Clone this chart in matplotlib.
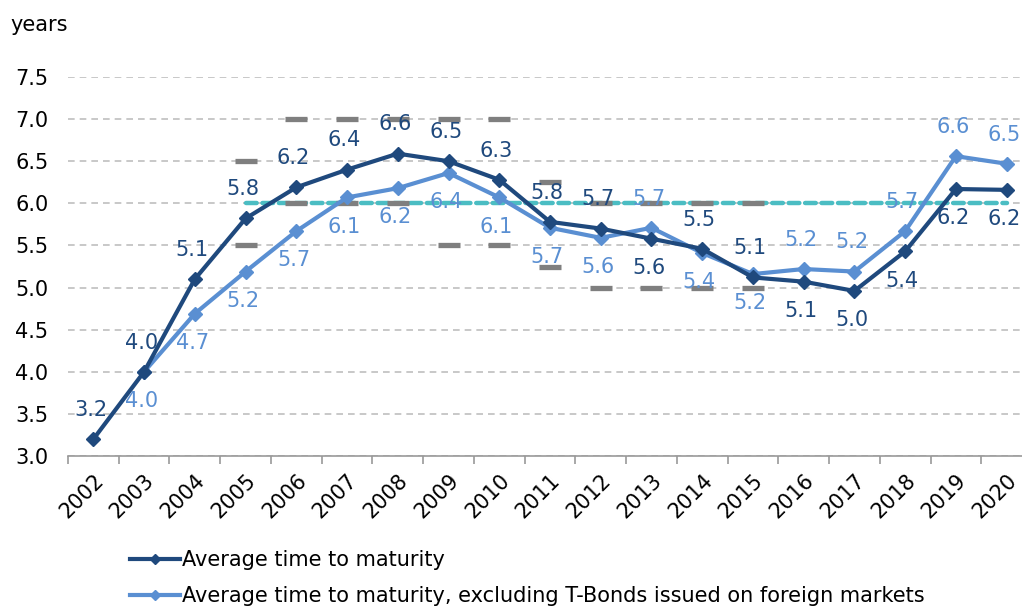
import numpy as np
import matplotlib.pyplot as plt
from matplotlib.ticker import FixedLocator, NullFormatter

# data
years = [str(y) for y in range(2002, 2021)]
avg_ttm = [3.2, 4.0, 5.1, 5.82, 6.19, 6.40, 6.59, 6.50, 6.28, 5.78, 5.70, 5.58,
           5.46, 5.12, 5.07, 4.96, 5.43, 6.17, 6.16]
avg_ttm_excl = [np.nan, 4.0, 4.69, 5.19, 5.67, 6.07, 6.18, 6.36, 6.07, 5.71, 5.59, 5.71,
                5.41, 5.16, 5.22, 5.19, 5.67, 6.56, 6.47]
# target ranges (2005-2015) and benchmark (2005-2020)
range_upper = [np.nan, np.nan, np.nan, 6.5, 7.0, 7.0, 7.0, 7.0, 7.0, 6.25, 6.0, 6.0,
               6.0, 6.0, np.nan, np.nan, np.nan, np.nan, np.nan]
range_lower = [np.nan, np.nan, np.nan, 5.5, 6.0, 6.0, 6.0, 5.5, 5.5, 5.25, 5.0, 5.0,
               5.0, 5.0, np.nan, np.nan, np.nan, np.nan, np.nan]
benchmark = [np.nan, np.nan, np.nan] + [6.0] * 16
# label placement: +1 above, -1 below
pos_dark = [1] * 11 + [-1, 1, 1, -1, -1, -1, -1, -1]
pos_light = [-1] * 11 + [1, -1, -1, 1, 1, 1, 1, 1]

dark = "#1f497d"
light = "#5a8fd2"
teal = "#4bbdc3"
grey = "#7f7f7f"
fs = 15

fig = plt.figure(figsize=(10.22, 6.06), dpi=100)
ax = fig.add_axes([68 / 1022, 1 - 456 / 606, 964 / 1022, 379 / 606])
x = np.arange(len(years))

ax.plot(x, benchmark, color=teal, lw=3.2, ls=(0, (2.4, 1.3)), zorder=2,
        dash_capstyle="round")
ax.plot(x, range_upper, ls="none", marker="_", ms=16, mew=3.8, color=grey, zorder=3)
ax.plot(x, range_lower, ls="none", marker="_", ms=16, mew=3.8, color=grey, zorder=3)

ax.plot(x, avg_ttm, color=dark, lw=3, marker="D", ms=7, zorder=5,
        label="Average time to maturity")
ax.plot(x, avg_ttm_excl, color=light, lw=3, marker="D", ms=7, zorder=4,
        label="Average time to maturity, excluding T-Bonds issued on foreign markets")

for xi, v, p in zip(x, avg_ttm, pos_dark):
    ax.annotate(f"{v:.1f}", (xi, v), xytext=(-2, 21 * p), textcoords="offset points",
                ha="center", va="center", fontsize=fs, color=dark, zorder=6)
for xi, v, p in zip(x, avg_ttm_excl, pos_light):
    if np.isnan(v):
        continue
    ax.annotate(f"{v:.1f}", (xi, v), xytext=(-2, 21 * p), textcoords="offset points",
                ha="center", va="center", fontsize=fs, color=light, zorder=6)

ax.set_xlim(-0.5, len(years) - 0.5)
ax.set_ylim(3.0, 7.5)
ax.set_yticks(np.arange(3.0, 7.51, 0.5))
ax.set_yticklabels([f"{t:.1f}" for t in np.arange(3.0, 7.51, 0.5)], fontsize=fs)
ax.tick_params(axis="y", length=0, pad=14)
ax.yaxis.grid(True, color="#bfbfbf", ls=(0, (4, 3)), lw=1.2)
ax.set_axisbelow(True)

ax.set_xticks(x)
ax.set_xticklabels(years, fontsize=fs, rotation=45, ha="right", rotation_mode="anchor")
ax.tick_params(axis="x", which="major", length=0, pad=10)
ax.xaxis.set_minor_locator(FixedLocator(np.arange(-0.5, len(years), 1.0)))
ax.xaxis.set_minor_formatter(NullFormatter())
ax.tick_params(axis="x", which="minor", length=6, width=1.2, color="#999999")

for s in ["top", "right", "left"]:
    ax.spines[s].set_visible(False)
ax.spines["bottom"].set_color("#999999")
ax.spines["bottom"].set_linewidth(1.2)

fig.text(10 / 1022, 1 - 25 / 606, "years", fontsize=fs, va="center", ha="left")

fig.legend(loc="upper left", bbox_to_anchor=(120 / 1022, 1 - 540 / 606), frameon=False,
           fontsize=fs, handlelength=2.4, handletextpad=0.1, labelspacing=0.75,
           borderpad=0, markerscale=0.8)

fig.savefig("out.png", dpi=100)
